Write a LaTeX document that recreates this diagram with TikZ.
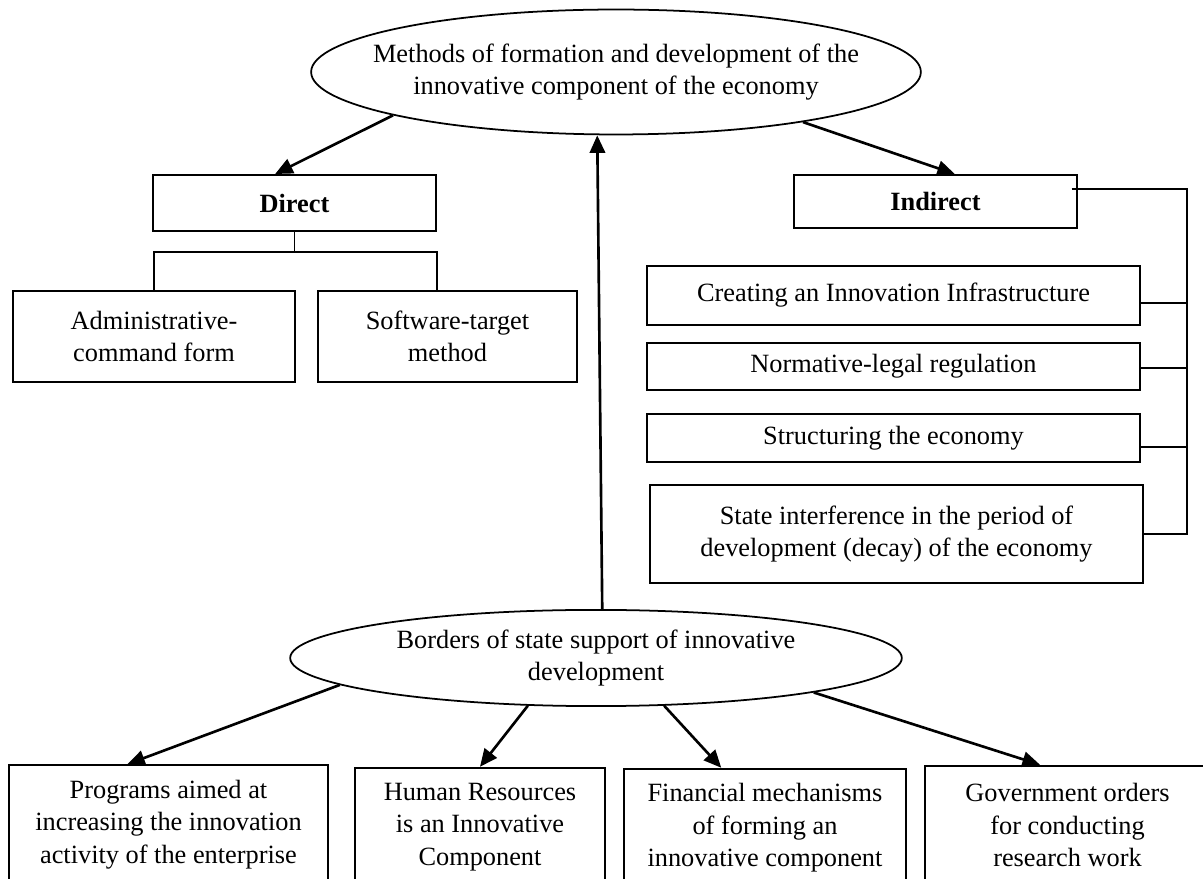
\documentclass[tikz,border=0pt]{standalone}
\usepackage{fontspec}
\setmainfont{Liberation Serif}
\usetikzlibrary{shapes.geometric,arrows.meta}

\begin{document}
\begin{tikzpicture}[x=0.016cm,y=-0.016cm,
	font=\fontsize{12}{14.8}\selectfont,
	box/.style={draw,line width=0.8pt,align=center,inner sep=0pt},
	oval/.style={draw,ellipse,line width=0.8pt,align=center,inner sep=0pt},
	link/.style={line width=0.8pt},
	arrow/.style={line width=1.2pt,-{Triangle[length=8pt,width=7pt]}}]
	\useasboundingbox (0,0) rectangle (1203,879);
	\node[oval,inner xsep=-0.45cm,minimum width=9.76cm,minimum height=2cm] (methods) at (616,72) {Methods of formation and development of the\\innovative component of the economy};
	\node[box,minimum width=4.53cm,minimum height=0.9cm] (direct) at (294.5,203) {\textbf{Direct}};
	\node[box,minimum width=4.51cm,minimum height=1.46cm] (admin) at (154,336.5) {Administrative-\\command form};
	\node[box,minimum width=4.14cm,minimum height=1.46cm] (soft) at (447.5,336.5) {Software-target\\method};
	\node[box,minimum width=4.53cm,minimum height=0.85cm] (indirect) at (935.5,201.5) {\textbf{Indirect}};
	\node[box,minimum width=7.89cm,minimum height=0.94cm] (creating) at (893.5,295.5) {Creating an Innovation Infrastructure};
	\node[box,minimum width=7.89cm,minimum height=0.75cm] (normative) at (893.5,366.5) {Normative-legal regulation};
	\node[box,minimum width=7.89cm,minimum height=0.77cm] (structuring) at (893.5,438) {Structuring the economy};
	\node[box,minimum width=7.89cm,minimum height=1.57cm] (state) at (896.5,534) {State interference in the period of\\development (decay) of the economy};
	\node[oval,minimum width=9.79cm,minimum height=1.54cm] (borders) at (596,658) {Borders of state support of innovative\\development};
	\node[box,minimum width=5.1cm,minimum height=1.9cm] (programs) at (168.5,824.5) {Programs aimed at\\increasing the innovation\\activity of the enterprise};
	\node[box,minimum width=4cm,minimum height=1.9cm] (human) at (480,827) {Human Resources\\is an Innovative\\Component};
	\node[box,minimum width=4.51cm,minimum height=1.9cm] (financial) at (765,828) {Financial mechanisms\\of forming an\\innovative component};
	\node[box,minimum width=4.56cm,minimum height=1.9cm] (government) at (1067.5,825) {Government orders\\for conducting\\research work};
	\coordinate (bus) at (1187,0);
	\draw[arrow] (methods.191) -- ([xshift=-0.31cm]direct.north);
	\draw[arrow] (methods.345) -- ([xshift=0.31cm]indirect.north);
	\draw[arrow] ([xshift=0.1cm]borders.north) -- ([xshift=-0.3cm]methods.south);
	\draw[link] (direct.south) -- ++(0,20) coordinate (fork);
	\draw[link] (admin.north) |- (fork) -| (direct.east |- soft.north);
	\draw[link] ([xshift=-0.1cm,yshift=0.2cm]indirect.east) -| (bus |- state.east) -- (state.east);
	\foreach \n/\s in {creating/-0.12cm,normative/-0.02cm,structuring/-0.14cm}
		\draw[link] ([yshift=\s]\n.east) -- ([yshift=\s]\n.east -| bus);
	\draw[arrow] (borders.186) -- ([xshift=-0.66cm]programs.north);
	\draw[arrow] (borders.215) -- (human.north);
	\draw[arrow] (borders.325) -- ([xshift=-0.7cm]financial.north);
	\draw[arrow] (borders.351) -- ([xshift=-0.44cm]government.north);
\end{tikzpicture}
\end{document}
